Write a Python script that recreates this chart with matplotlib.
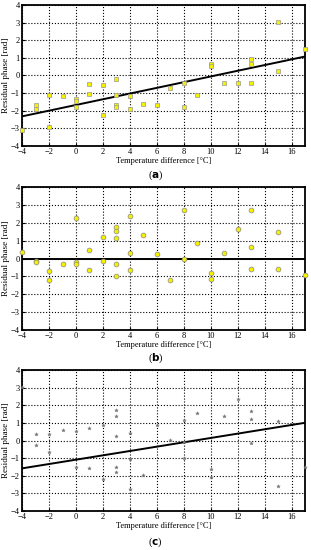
import numpy as np
import matplotlib
matplotlib.use("Agg")
from matplotlib import pyplot as plt

plt.rcParams['font.family'] = ['Liberation Serif', 'DejaVu Serif']

# panel (a): square markers + linear fit
xa = [-4, -3, -3, -2, -2, -1, 0, 0, 0, 1, 1, 2, 2, 3, 3, 3, 3, 4, 4, 5, 6, 7, 8, 8, 9,
      10, 10, 11, 12, 13, 13, 13, 15, 15, 17]
ya = [-3.09, -1.69, -1.92, -1.12, -2.92, -1.16, -1.37, -1.48, -1.82, -0.50, -1.07,
      -0.56, -2.24, -0.18, -1.10, -1.67, -1.77, -1.18, -1.92, -1.61, -1.71, -0.74,
      -0.44, -1.78, -1.14, 0.67, 0.54, -0.46, -0.42, 0.92, 0.65, -0.44, 3.04, 0.24, 1.50]
fit_a = [(-4, 17), (-2.33, 1.07)]

# panel (b): circles, residual after fit
xb = [-4, -3, -3, -2, -2, -1, 0, 0, 0, 1, 1, 2, 2, 3, 3, 3, 3, 3, 4, 4, 4, 5, 6, 7, 8, 8,
      9, 10, 10, 11, 12, 13, 13, 13, 15, 15, 17]
yb = [0.35, -0.15, -0.20, -0.69, -1.21, -0.32, 2.25, -0.17, -0.28, 0.48, -0.65,
      1.23, -0.15, 1.77, 1.56, 1.12, -0.28, -0.97, 2.38, 0.28, -0.65, 1.30, 0.26,
      -1.21, 2.70, -0.02, 0.89, -0.80, -1.12, 0.30, 1.66, 2.74, 0.63, -0.58, 1.47,
      -0.60, -0.93]

# panel (c): asterisks + linear fit
xc = [-4, -3, -3, -2, -2, -1, 0, 0, 1, 1, 2, 2, 3, 3, 3, 3, 3, 4, 4, 4, 5, 6, 7, 8, 8, 8,
      9, 10, 10, 11, 12, 13, 13, 13, 15, 15, 17]
yc = [3.05, 0.35, -0.27, 0.39, -0.67, 0.60, 0.56, -1.50, 0.69, -1.54, 0.88, -2.16,
      1.71, 1.37, 0.26, -1.48, -1.77, 0.41, -1.05, -2.77, -1.95, 0.86, 0.05, 1.15,
      -0.08, -1.01, 1.54, -1.63, -2.07, 1.37, 2.34, 1.67, 1.22, -0.16, 1.13, -2.60,
      -1.48]
fit_c = [(-4, 17), (-1.58, 1.01)]

xticks = list(range(-4, 18, 2))
yticks = list(range(-4, 5))

fig = plt.figure(figsize=(3.11, 5.5), dpi=100)
boxes = [[0.071, 0.735, 0.910, 0.256],
         [0.071, 0.400, 0.910, 0.260],
         [0.071, 0.071, 0.910, 0.256]]
axs = [fig.add_axes(b) for b in boxes]

for ax in axs:
    ax.set(xlim=(-4, 17), ylim=(-4, 4))
    ax.set_xticks(xticks)
    ax.set_yticks(yticks)
    ax.grid(True, color='k', linestyle=':', linewidth=0.8)
    ax.tick_params(labelsize=6, direction='in', length=2, pad=1.5)
    for s in ax.spines.values():
        s.set_linewidth(1.3)
    ax.set_xlabel('Temperature difference [°C]', fontsize=6, labelpad=0.5)
    ax.set_ylabel('Residual phase [rad]', fontsize=6.6, labelpad=1)
    ax.set_axisbelow(True)

axs[0].plot(fit_a[0], fit_a[1], 'k-', lw=1.4, zorder=3)
axs[0].scatter(xa, ya, marker='s', s=9, c='#f5f000', edgecolors='#999999',
               linewidths=0.5, zorder=4, clip_on=False)

axs[1].axhline(0, color='k', lw=1.4, zorder=3)
axs[1].scatter(xb, yb, marker='o', s=12, c='#f5f000', edgecolors='#888888',
               linewidths=0.5, zorder=4, clip_on=False)

axs[2].plot(fit_c[0], fit_c[1], 'k-', lw=1.4, zorder=3)
axs[2].scatter(xc, yc, marker='*', s=7, c='#777777', linewidths=0.3, zorder=4,
               clip_on=False)

for ypos, lab in zip([175, 358, 542], ['a', 'b', 'c']):
    fig.text(0.5, 1 - ypos / 550, '(' + r'$\mathbf{' + lab + '}$' + ')',
             ha='center', va='center', fontsize=7.5)

fig.savefig('out.png', dpi=100)
